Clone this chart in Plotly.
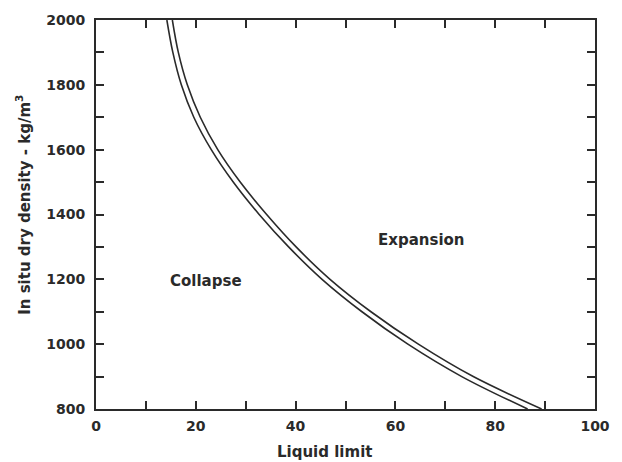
import plotly.graph_objects as go

# Data
density = [2000, 1900, 1800, 1700, 1600, 1500, 1400, 1300, 1200, 1100, 1000, 900, 800]
ll_left = [14.2, 15.4, 17.1, 19.6, 23.1, 27.5, 32.7, 38.6, 45.3, 53.3, 62.5, 73.3, 86.5]
ll_right = [15.3, 16.5, 18.3, 20.9, 24.4, 28.9, 34.2, 40.1, 46.9, 55.1, 64.6, 75.6, 89.3]

x_ticks = [0, 20, 40, 60, 80, 100]
y_ticks = [800, 1000, 1200, 1400, 1600, 1800, 2000]

region_labels = ["Expansion", "Collapse"]
region_x = [65.3, 22.0]
region_y = [1322, 1196]

INK = "#2a2a2a"
FONT = "DejaVu Sans"

fig = go.Figure()
for xs in (ll_left, ll_right):
    fig.add_trace(go.Scatter(
        x=xs, y=density, mode="lines",
        line=dict(color=INK, width=1.6, shape="spline", smoothing=1.0),
        showlegend=False, hoverinfo="skip"))

for t, x, y in zip(region_labels, region_x, region_y):
    fig.add_annotation(x=x, y=y, xref="x", yref="y", text=t, showarrow=False,
                       font=dict(family=FONT, size=15, color=INK, weight="bold"))

fig.add_annotation(x=0.457, y=-0.11, xref="paper", yref="paper", text="Liquid limit",
                   showarrow=False, yanchor="middle",
                   font=dict(family=FONT, size=15, color=INK, weight="bold"))
fig.add_annotation(x=-0.145, y=0.524, xref="paper", yref="paper",
                   text="In situ dry density - kg/m<sup>3</sup>", textangle=-90,
                   showarrow=False, xanchor="center", yanchor="middle",
                   font=dict(family=FONT, size=15, color=INK, weight="bold"))

axis_common = dict(showgrid=False, zeroline=False, showline=True, linecolor=INK,
                   linewidth=1.8, mirror="allticks", ticks="inside", ticklen=8,
                   tickwidth=1.5, tickcolor=INK,
                   tickfont=dict(family=FONT, size=14, color=INK, weight="bold"))

fig.update_xaxes(range=[0, 100], tickvals=x_ticks, ticklabelstandoff=3,
                 minor=dict(dtick=10, ticks="inside", ticklen=8, tickwidth=1.5,
                            tickcolor=INK, showgrid=False),
                 **axis_common)
fig.update_yaxes(range=[800, 2000], tickvals=y_ticks, ticklabelstandoff=6,
                 minor=dict(dtick=100, ticks="inside", ticklen=8, tickwidth=1.5,
                            tickcolor=INK, showgrid=False),
                 **axis_common)

fig.update_layout(width=622, height=462,
                  margin=dict(l=96, r=22, t=20, b=53),
                  paper_bgcolor="white", plot_bgcolor="white")

fig.write_html("out.html", config={"displayModeBar": False},
               post_script="document.body.style.margin='0';document.body.style.overflow='hidden';")
